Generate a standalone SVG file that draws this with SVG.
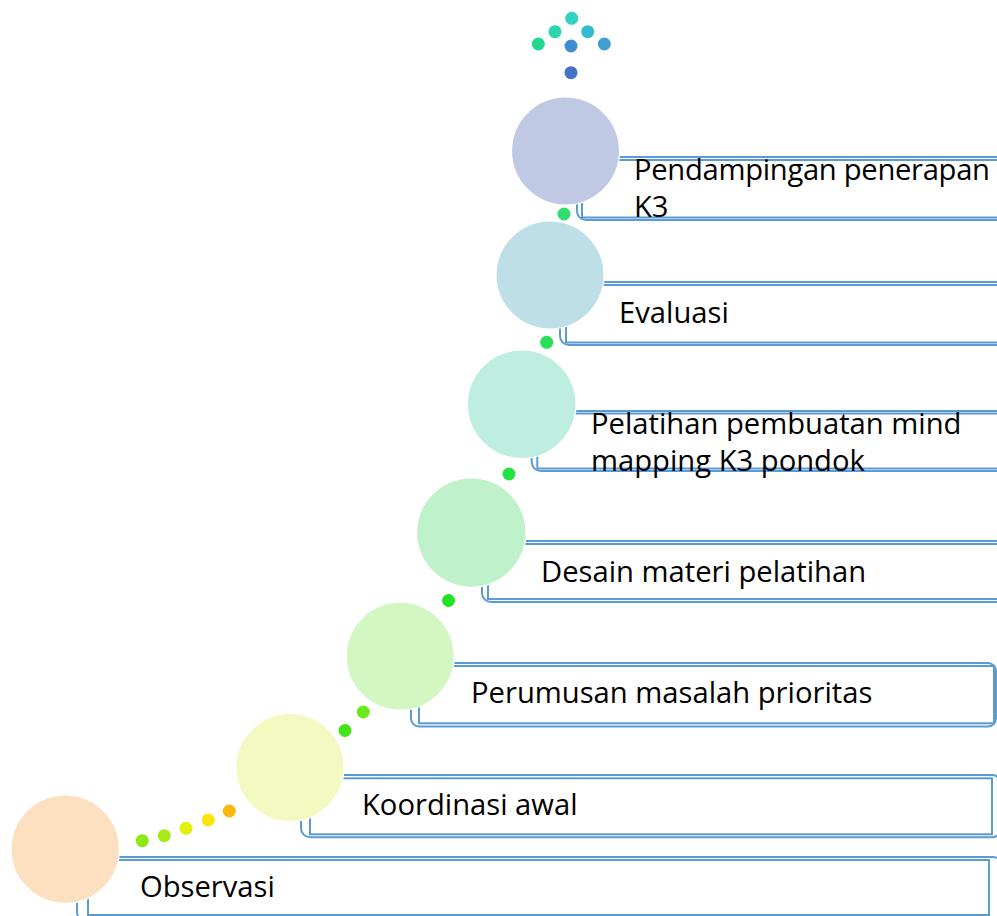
<svg xmlns="http://www.w3.org/2000/svg" width="997" height="916" viewBox="0 0 997 916">
<style>
.o{fill:#fff;stroke:#5B9BD5;stroke-width:2}
.i{fill:none;stroke:#5B9BD5;stroke-width:2}
.c{stroke:#fff;stroke-width:1.2}
.t{font-family:"Open Sans",sans-serif;font-size:29.2px;fill:#000}
</style>
<rect width="997" height="916" fill="#fff"/>
<g id="connectors">
<circle cx="571.7" cy="18.3" r="6.5" fill="#33D1C4"/>
<circle cx="555" cy="31.7" r="6.5" fill="#2CD4B0"/>
<circle cx="587.7" cy="31.7" r="6.5" fill="#33BCCF"/>
<circle cx="538.3" cy="44" r="6.5" fill="#22D88E"/>
<circle cx="571" cy="46" r="6.5" fill="#3F8CD1"/>
<circle cx="604.3" cy="44" r="6.5" fill="#3F9FCF"/>
<circle cx="571" cy="72.7" r="6.5" fill="#4472C4"/>
<circle cx="564" cy="214" r="6.5" fill="#2EDD6C"/>
<circle cx="546.7" cy="342.3" r="6.5" fill="#27E05A"/>
<circle cx="509" cy="474" r="6.5" fill="#22E340"/>
<circle cx="448.5" cy="600.5" r="6.5" fill="#22E322"/>
<circle cx="363.3" cy="712" r="6.5" fill="#6AE81E"/>
<circle cx="345" cy="730.5" r="6.5" fill="#44E31A"/>
<circle cx="229.3" cy="811" r="6.5" fill="#FBB80A"/>
<circle cx="208.3" cy="820" r="6.5" fill="#FBE30B"/>
<circle cx="186" cy="828.3" r="6.5" fill="#E0F20C"/>
<circle cx="164.3" cy="835.7" r="6.5" fill="#A8EA16"/>
<circle cx="142.3" cy="840.7" r="6.5" fill="#8FE812"/>
</g>
<g id="node1">
<rect class="o" x="77" y="857" width="925" height="64" rx="9"/>
<rect class="i" x="88" y="860" width="901" height="55"/>
<circle class="c" cx="65.2" cy="849.2" r="54.2" fill="#FDE0C0"/>
<text class="t" x="140" y="896.5">Observasi</text>
</g>
<g id="node2">
<rect class="o" x="301" y="775" width="700" height="62.3" rx="9"/>
<rect class="i" x="310" y="778.3" width="682" height="56"/>
<circle class="c" cx="290" cy="767.5" r="54" fill="#F3F9C1"/>
<text class="t" x="362" y="815">Koordinasi awal</text>
</g>
<g id="node3">
<rect class="o" x="411" y="663" width="585" height="63.5" rx="8"/>
<rect class="i" x="419" y="666" width="575" height="57.3"/>
<circle class="c" cx="400.2" cy="656.2" r="54" fill="#D4F6C3"/>
<text class="t" x="471" y="703">Perumusan masalah prioritas</text>
</g>
<g id="node4">
<rect class="o" x="482" y="541" width="530" height="61" rx="9"/>
<rect class="i" x="488" y="544" width="520" height="55"/>
<circle class="c" cx="471.3" cy="532.6" r="54.7" fill="#BFF2CA"/>
<text class="t" x="541" y="582">Desain materi pelatihan</text>
</g>
<g id="node5">
<rect class="o" x="531.7" y="411" width="480" height="60" rx="9"/>
<rect class="i" x="537.3" y="413.5" width="470" height="55"/>
<circle class="c" cx="521.7" cy="404.2" r="54.3" fill="#BDEEE0"/>
<text class="t" x="591" y="434">Pelatihan pembuatan mind</text>
<text class="t" x="591" y="471">mapping K3 pondok</text>
</g>
<g id="node6">
<rect class="o" x="560" y="282" width="450" height="63" rx="9"/>
<rect class="i" x="566" y="285" width="440" height="57.5"/>
<circle class="c" cx="550" cy="275" r="54" fill="#BFDFE8"/>
<text class="t" x="619" y="323">Evaluasi</text>
</g>
<g id="node7">
<rect class="o" x="577" y="157" width="430" height="63" rx="9"/>
<rect class="i" x="582" y="160" width="420" height="57.5"/>
<circle class="c" cx="565.5" cy="151" r="54" fill="#C0C9E4"/>
<text class="t" x="634" y="179.5" textLength="356" lengthAdjust="spacing">Pendampingan penerapan</text>
<text class="t" x="634" y="217">K3</text>
</g>
</svg>
